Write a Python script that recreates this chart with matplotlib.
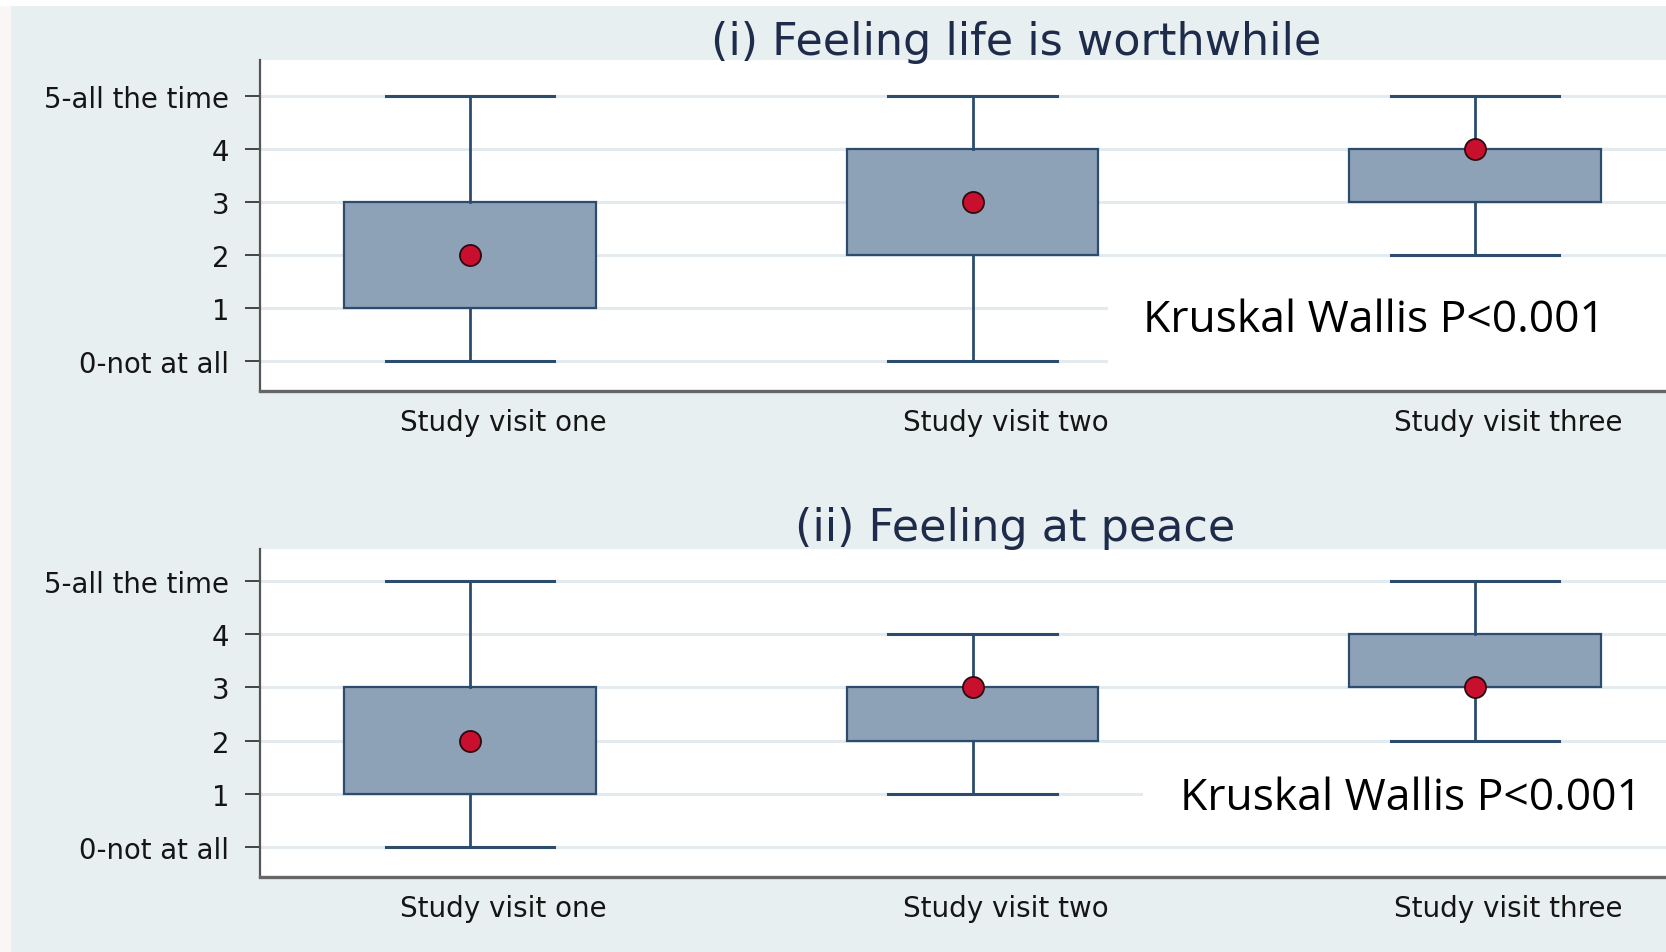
import matplotlib
matplotlib.use("Agg")
import matplotlib.pyplot as plt
from matplotlib.patches import Rectangle

# categories / tick labels
VISITS = ["Study visit one", "Study visit two", "Study visit three"]
Y_TICKS = [0, 1, 2, 3, 4, 5]
Y_LABELS = ["0-not at all", "1", "2", "3", "4", "5-all the time"]

# panel (i) Feeling life is worthwhile
WORTH_MIN = [0, 0, 2]
WORTH_Q1 = [1, 2, 3]
WORTH_MED = [2, 3, 4]
WORTH_Q3 = [3, 4, 4]
WORTH_MAX = [5, 5, 5]

# panel (ii) Feeling at peace
PEACE_MIN = [0, 1, 2]
PEACE_Q1 = [1, 2, 3]
PEACE_MED = [2, 3, 3]
PEACE_Q3 = [3, 3, 4]
PEACE_MAX = [5, 4, 5]

TITLES = ["(i) Feeling life is worthwhile", "(ii) Feeling at peace"]
NOTE = "Kruskal Wallis P<0.001"

BG = "#e8eff1"
BOX_FILL = "#8da2b6"
BOX_EDGE = "#2c4c6e"
DOT = "#c8102e"
GRID = "#e3ebee"
TITLE_COLOR = "#1f2b4a"


def draw_panel(ax, lo, q1, med, q3, hi, ylim):
    pos = [1, 2, 3]
    stats = [
        dict(whislo=a, q1=b, med=c, q3=d, whishi=e, fliers=[])
        for a, b, c, d, e in zip(lo, q1, med, q3, hi)
    ]
    ax.bxp(
        stats,
        positions=pos,
        widths=0.5,
        capwidths=0.336,
        patch_artist=True,
        showfliers=False,
        boxprops=dict(facecolor=BOX_FILL, edgecolor=BOX_EDGE, linewidth=1.6),
        whiskerprops=dict(color=BOX_EDGE, linewidth=2.0),
        capprops=dict(color=BOX_EDGE, linewidth=2.2),
        medianprops=dict(linewidth=0),
        zorder=3,
    )
    ax.scatter(pos, med, s=230, color=DOT, edgecolor="#2a0a10", linewidth=1.3, zorder=5)

    ax.set_xlim(0.582, 3.38)
    ax.set_ylim(*ylim)
    ax.set_yticks(Y_TICKS)
    ax.set_yticklabels(Y_LABELS, fontsize=19.8, color="#151515")
    ax.set_xticks([p + 0.066 for p in pos])
    ax.set_xticklabels(VISITS, fontsize=20, color="#151515")
    ax.tick_params(axis="y", length=11, width=1.4, color="#444444", pad=11)
    ax.tick_params(axis="x", length=0, pad=12)
    ax.grid(axis="y", color=GRID, linewidth=2.2, zorder=0)
    ax.set_axisbelow(True)
    for side in ("top", "right"):
        ax.spines[side].set_visible(False)
    ax.spines["left"].set_color("#555555")
    ax.spines["left"].set_linewidth(1.6)
    ax.spines["bottom"].set_color("#666666")
    ax.spines["bottom"].set_linewidth(2.4)
    ax.set_facecolor("white")


def add_note(ax, x, y, mask):
    # white panel behind the note hides the gridlines it sits on
    x0, y0, y1 = mask
    ax.add_patch(Rectangle((x0, y0), 5, y1 - y0, facecolor="white",
                           edgecolor="none", zorder=1))
    ax.text(x, y, NOTE, fontsize=32, family="Open Sans", color="black",
            ha="left", va="center", zorder=6)


fig = plt.figure(figsize=(16.66, 9.53), dpi=100, facecolor=BG)
W, H = 1666.0, 953.0

ax1 = fig.add_axes([260 / W, 1 - 392 / H, 1 - 260 / W, 331 / H])
draw_panel(ax1, WORTH_MIN, WORTH_Q1, WORTH_MED, WORTH_Q3, WORTH_MAX, (-0.566, 5.68))
add_note(ax1, 2.34, 0.78, (2.27, -0.3, 1.45))

ax2 = fig.add_axes([260 / W, 1 - 878 / H, 1 - 260 / W, 328 / H])
draw_panel(ax2, PEACE_MIN, PEACE_Q1, PEACE_MED, PEACE_Q3, PEACE_MAX, (-0.564, 5.60))
add_note(ax2, 2.413, 0.93, (2.34, 0.5, 1.5))

fig.text(1016 / W, 1 - 42 / H, TITLES[0], fontsize=32, color=TITLE_COLOR, ha="center", va="center")
fig.text(1015 / W, 1 - 528 / H, TITLES[1], fontsize=32, color=TITLE_COLOR, ha="center", va="center")

# pale strips at the left and top edges of the slide
fig.patches.append(Rectangle((0, 0), 11 / W, 1, transform=fig.transFigure,
                             facecolor="#fbf6f6", edgecolor="none", zorder=10))
fig.patches.append(Rectangle((0, 1 - 7 / H), 1, 7 / H, transform=fig.transFigure,
                             facecolor="white", edgecolor="none", zorder=10))

fig.savefig("out.png", dpi=100, facecolor=BG)
